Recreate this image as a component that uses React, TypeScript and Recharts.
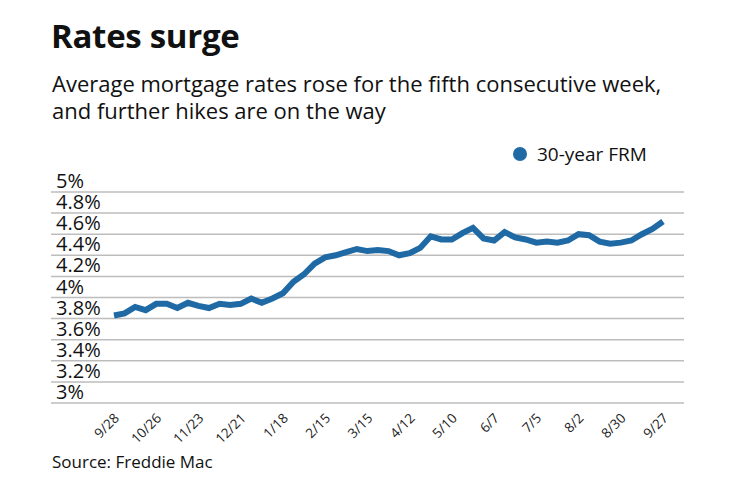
import { CartesianGrid, Line, LineChart, XAxis, YAxis } from "recharts"

// Freddie Mac weekly 30-year fixed rate, Sep 2017 – Sep 2018
const weeks = [
  "9/28", "10/5", "10/12", "10/19", "10/26", "11/2", "11/9", "11/16", "11/23", "11/30",
  "12/7", "12/14", "12/21", "12/28", "1/4", "1/11", "1/18", "1/25", "2/1", "2/8",
  "2/15", "2/22", "3/1", "3/8", "3/15", "3/22", "3/29", "4/5", "4/12", "4/19",
  "4/26", "5/3", "5/10", "5/17", "5/24", "5/31", "6/7", "6/14", "6/21", "6/28",
  "7/5", "7/12", "7/19", "7/26", "8/2", "8/9", "8/16", "8/23", "8/30", "9/6",
  "9/13", "9/20", "9/27",
]

const frm30 = [
  3.83, 3.85, 3.91, 3.88, 3.94, 3.94, 3.9, 3.95, 3.92, 3.9,
  3.94, 3.93, 3.94, 3.99, 3.95, 3.99, 4.04, 4.15, 4.22, 4.32,
  4.38, 4.4, 4.43, 4.46, 4.44, 4.45, 4.44, 4.4, 4.42, 4.47,
  4.58, 4.55, 4.55, 4.61, 4.66, 4.56, 4.54, 4.62, 4.57, 4.55,
  4.52, 4.53, 4.52, 4.54, 4.6, 4.59, 4.53, 4.51, 4.52, 4.54,
  4.6, 4.65, 4.72,
]

const yTicks = [3, 3.2, 3.4, 3.6, 3.8, 4, 4.2, 4.4, 4.6, 4.8, 5]

const data = weeks.map((week, i) => ({ week, rate: frm30[i] }))

const BLUE = "#1f6aa5"
const FONT = "'Open Sans', sans-serif"

function fmtPct(v: number) {
  return `${Number(v.toFixed(1))}%`
}

function YTick(props: any) {
  const { y, payload } = props
  return (
    <text x={56} y={y - 4} fontSize={20} fill="#111" fontFamily={FONT} textAnchor="start">
      {fmtPct(payload.value)}
    </text>
  )
}

function XTick(props: any) {
  const { x, y, payload } = props
  const ax = x + 6
  const ay = y + 8
  return (
    <text
      x={ax}
      y={ay}
      fontSize={13.5}
      fill="#222"
      fontFamily={FONT}
      textAnchor="end"
      transform={`rotate(-45, ${ax}, ${ay})`}
    >
      {payload.value}
    </text>
  )
}

export default function App() {
  return (
    <div
      style={{
        position: "fixed",
        left: 0,
        top: 0,
        width: 740,
        height: 482,
        background: "#fff",
        fontFamily: FONT,
        color: "#111",
      }}
    >
      <div style={{ position: "absolute", left: 51, top: 13, fontSize: 33, fontWeight: 700, letterSpacing: -0.3 }}>
        Rates surge
      </div>
      <div style={{ position: "absolute", left: 52, top: 70, fontSize: 22, lineHeight: "27px", width: 690 }}>
        Average mortgage rates rose for the fifth consecutive week,
        <br />
        and further hikes are on the way
      </div>

      <div style={{ position: "absolute", left: 513, top: 147, display: "flex", alignItems: "center" }}>
        <span style={{ width: 14, height: 14, borderRadius: 7, background: BLUE, display: "inline-block" }} />
        <span style={{ marginLeft: 10, fontSize: 19, lineHeight: "14px" }}>30-year FRM</span>
      </div>

      <div style={{ position: "absolute", left: 0, top: 0 }}>
        <LineChart width={740} height={482} data={data} margin={{ top: 192, right: 56, bottom: 49, left: 51 }}>
          <CartesianGrid horizontal vertical={false} stroke="#bdbdbd" strokeWidth={1.5} />
          <XAxis
            dataKey="week"
            interval={3}
            height={30}
            padding={{ left: 63, right: 21 }}
            axisLine={false}
            tickLine={false}
            tick={(p: any) => <XTick {...p} />}
          />
          <YAxis
            domain={[3, 5]}
            ticks={yTicks}
            type="number"
            interval={0}
            mirror
            axisLine={false}
            tickLine={false}
            tick={(p: any) => <YTick {...p} />}
          />
          <Line
            type="linear"
            dataKey="rate"
            stroke={BLUE}
            strokeWidth={6}
            dot={false}
            isAnimationActive={false}
          />
        </LineChart>
      </div>

      <div style={{ position: "absolute", left: 52, top: 450, fontSize: 17 }}>Source: Freddie Mac</div>
    </div>
  )
}
